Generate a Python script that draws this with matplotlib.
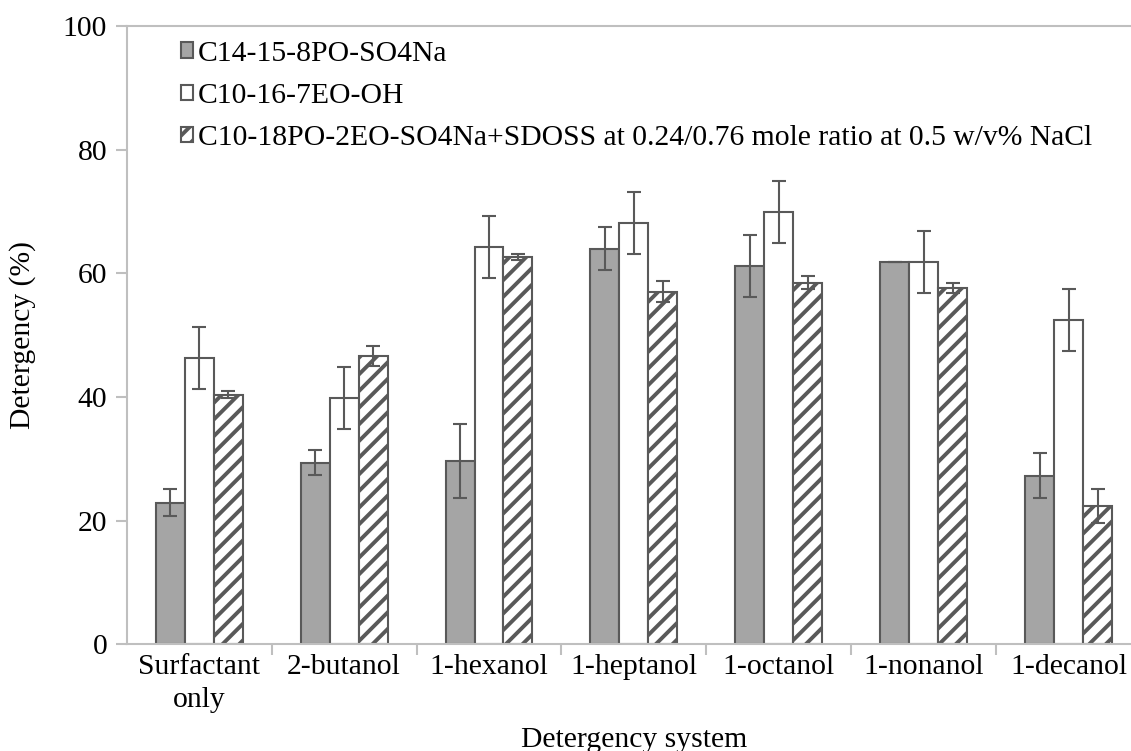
import numpy as np
import matplotlib.pyplot as plt

systems = ['Surfactant\nonly', '2-butanol', '1-hexanol', '1-heptanol',
           '1-octanol', '1-nonanol', '1-decanol']

labels = ['C14-15-8PO-SO4Na',
          'C10-16-7EO-OH',
          'C10-18PO-2EO-SO4Na+SDOSS at 0.24/0.76 mole ratio at 0.5 w/v% NaCl']

po_so4 = [22.9, 29.4, 29.7, 64.0, 61.2, 61.9, 27.3]
po_so4_err = [2.2, 2.0, 6.0, 3.5, 5.0, 0.0, 3.7]

eo_oh = [46.3, 39.9, 64.3, 68.1, 69.9, 61.8, 52.4]
eo_oh_err = [5.0, 5.0, 5.0, 5.0, 5.0, 5.0, 5.0]

mix = [40.4, 46.6, 62.6, 57.0, 58.5, 57.6, 22.4]
mix_err = [0.5, 1.6, 0.5, 1.7, 1.0, 0.8, 2.8]

plt.rcParams['font.family'] = 'Liberation Serif'
plt.rcParams['hatch.linewidth'] = 2.8

dark = '#595959'
axis_grey = '#BFBFBF'
fs = 21.3

fig = plt.figure(figsize=(11.31, 7.51), dpi=100)
ax = fig.add_axes([0.112, 0.142, 0.897, 0.8234])

x = np.arange(len(systems))
w = 0.2
err_kw = dict(ecolor=dark, elinewidth=1.5, capsize=5, capthick=1.5)

ax.bar(x - w, po_so4, w, yerr=po_so4_err, color='#A5A5A5', edgecolor=dark,
       linewidth=1.5, label=labels[0], error_kw=err_kw)
ax.bar(x, eo_oh, w, yerr=eo_oh_err, color='white', edgecolor=dark,
       linewidth=1.5, label=labels[1], error_kw=err_kw)
ax.bar(x + w, mix, w, yerr=mix_err, color='white', edgecolor=dark,
       linewidth=1.5, hatch='//', label=labels[2], error_kw=err_kw)

ax.set_xlim(-0.5, len(systems) - 0.5)
ax.set_ylim(0, 100)
ax.set_yticks(range(0, 101, 20))
ax.set_xticks(x)
ax.set_xticklabels(systems, fontsize=fs, linespacing=1.35)
ax.set_xticks(np.arange(0.5, len(systems) - 0.5), minor=True)
ax.tick_params(axis='x', which='major', length=0, pad=7)
ax.tick_params(axis='x', which='minor', length=8, color=axis_grey, width=1.5)
ax.tick_params(axis='y', labelsize=fs, length=8, color=axis_grey, width=1.5, pad=6)

for side in ['left', 'bottom', 'top']:
    ax.spines[side].set_color(axis_grey)
    ax.spines[side].set_linewidth(1.5)
ax.spines['right'].set_visible(False)

ax.set_xlabel('Detergency system', fontsize=fs, labelpad=10)
ax.set_ylabel('Detergency (%)', fontsize=fs, labelpad=19)

ax.legend(loc='upper left', bbox_to_anchor=(0.036, 1.005), frameon=False,
          fontsize=fs, handlelength=0.42, handleheight=0.42, handletextpad=0.15,
          labelspacing=0.55, borderaxespad=0.2)

fig.savefig('out.png', dpi=100)
